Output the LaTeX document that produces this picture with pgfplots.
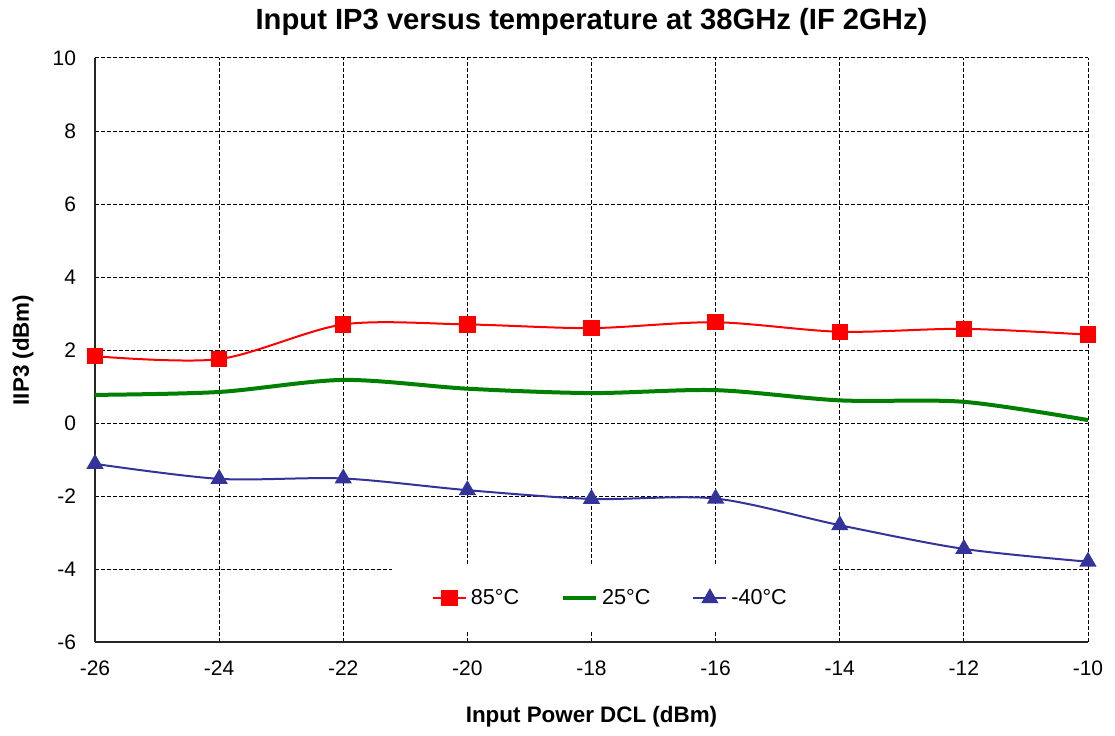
\documentclass[border=0pt]{standalone}
\usepackage{pgfplots}
\pgfplotsset{compat=1.18}
\usepackage{fontspec}
\setmainfont{Liberation Sans}
\definecolor{cred}{RGB}{255,0,0}
\definecolor{cgreen}{RGB}{0,128,0}
\definecolor{cblue}{RGB}{51,51,153}
\begin{document}
\begin{tikzpicture}
\path[use as bounding box] (-47.5pt,-46.5pt) rectangle (510pt,321pt);
\begin{axis}[
  scale only axis,
  width=496.5pt, height=292pt,
  at={(0pt,0pt)}, anchor=south west,
  xmin=-26, xmax=-10, ymin=-6, ymax=10,
  xtick={-26,-24,...,-10}, ytick={-6,-4,...,10},
  axis x line*=bottom, axis y line*=left,
  axis line style={black!85, line width=0.9pt, -},
  tick style={draw=none},
  grid=major,
  major grid style={black, dashed, line width=0.5pt, dash pattern=on 2pt off 1pt},
  ticklabel style={font=\fontsize{10.5}{12}\selectfont},
  /pgf/number format/assume math mode=true,
  xticklabel style={yshift=-6pt},
  yticklabel style={xshift=-6pt},
  legend style={at={(0.52,0.075)}, anchor=center, draw=none, fill=white,
    font=\fontsize{10.8}{12}\selectfont, legend columns=3,
    /tikz/every even column/.append style={column sep=19pt},
    /tikz/every odd column/.append style={inner xsep=1pt},
    inner xsep=20pt, inner ysep=10pt},
  legend image code/.code={\draw[#1] (0pt,0pt) -- (16.5pt,0pt); \draw[#1, mark repeat=2, mark phase=2] plot coordinates {(0pt,0pt) (8.25pt,0pt) (16.5pt,0pt)};},
  clip=false,
]
\addplot[cred, line width=1pt, smooth, tension=0.5, mark=square*, mark size=3.6pt, mark options={solid}] coordinates {
(-26,1.83) (-24,1.75) (-22,2.70) (-20,2.70) (-18,2.60) (-16,2.76) (-14,2.50) (-12,2.58) (-10,2.42)};
\addlegendentry{85°C}
\addplot[cgreen, line width=2pt, smooth, tension=0.5] coordinates {
(-26,0.77) (-24,0.85) (-22,1.18) (-20,0.94) (-18,0.82) (-16,0.90) (-14,0.62) (-12,0.58) (-10,0.08)};
\addlegendentry{25°C}
\addplot[cblue, line width=1pt, smooth, tension=0.5, mark=triangle*, mark size=4pt, mark options={solid}] coordinates {
(-26,-1.12) (-24,-1.53) (-22,-1.52) (-20,-1.84) (-18,-2.08) (-16,-2.07) (-14,-2.80) (-12,-3.45) (-10,-3.80)};
\addlegendentry{-40°C}
\node[font=\bfseries\fontsize{14.6}{16}\selectfont] at ([yshift=18pt]rel axis cs:0.5,1) {Input IP3 versus temperature at 38GHz (IF 2GHz)};
\node[font=\bfseries\fontsize{11.2}{13}\selectfont] at ([yshift=-37.5pt]rel axis cs:0.5,0) {Input Power DCL (dBm)};
\node[font=\bfseries\fontsize{11.2}{13}\selectfont, rotate=90] at ([xshift=-36pt]rel axis cs:0,0.5) {IIP3 (dBm)};
\end{axis}
\end{tikzpicture}
\end{document}
